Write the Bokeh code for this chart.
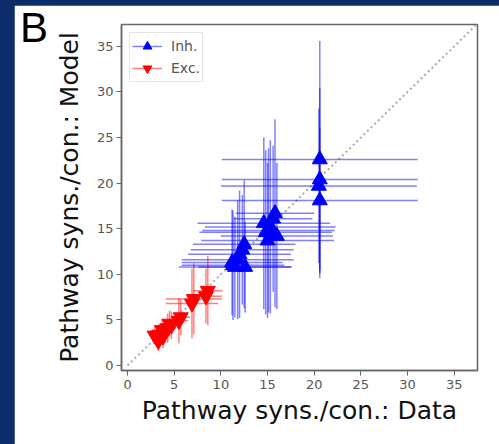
import numpy as np
from bokeh.plotting import figure
from bokeh.models import (ColumnDataSource, Legend, LegendItem, FixedTicker,
                          Range1d, Div)
from bokeh.layouts import column
from bokeh.embed import file_html
from bokeh.resources import INLINE

# ---- data ----
inh_x    = [20.6, 20.6, 20.5, 20.6,
            14.6, 14.8, 15.0, 15.3, 15.8, 15.6, 16.0, 15.1,
            11.3, 11.5, 11.8, 12.0, 12.3, 12.5, 12.6, 11.2]
inh_y    = [22.6, 20.4, 19.7, 18.1,
            15.6, 14.6, 13.7, 15.2, 16.7, 16.1, 14.2, 14.8,
            11.0, 10.8, 11.6, 12.2, 12.7, 13.3, 10.8, 11.3]
inh_xerr = [10.5, 10.5, 10.5, 10.5,
            7.1, 7.1, 7.1, 7.0, 4.2, 4.2, 6.0, 7.1,
            5.5, 6.0, 6.0, 5.5, 5.5, 5.5, 5.0, 5.4]
inh_yerr = [13.0, 10.0, 8.5, 8.0,
            9.4, 9.0, 8.5, 9.5, 10.3, 8.0, 8.0, 9.0,
            6.0, 5.5, 6.5, 7.0, 6.0, 7.0, 5.0, 5.8]

exc_x    = [8.6, 8.4, 7.1, 6.9, 5.7, 5.5, 4.7, 4.3, 4.0, 3.7, 3.4, 3.1, 2.9, 3.3, 3.8, 4.5]
exc_y    = [8.2, 7.6, 7.3, 6.8, 5.3, 4.9, 4.4, 4.1, 3.7, 3.9, 3.4, 3.1, 3.3, 2.7, 3.2, 4.6]
exc_xerr = [1.6, 1.7, 3.0, 2.8, 1.0, 1.0, 0.8, 0.9, 0.7, 0.6, 0.6, 0.5, 0.4, 0.5, 0.6, 0.7]
exc_yerr = [3.8, 3.0, 3.9, 3.8, 2.0, 2.5, 1.5, 1.6, 1.3, 1.2, 1.2, 1.0, 1.0, 1.1, 1.3, 1.4]

ticks = [0, 5, 10, 15, 20, 25, 30, 35]
diag = [0, 40]

x_label = "Pathway syns./con.: Data"
y_label = "Pathway syns./con.: Model"
panel_letter = "B"


def make_source(x, y, xe, ye):
    x = np.array(x); y = np.array(y); xe = np.array(xe); ye = np.array(ye)
    return ColumnDataSource(dict(x=x, y=y, x0=x - xe, x1=x + xe,
                                 y0=y - ye, y1=y + ye))


p = figure(width=485, height=439,
           x_range=Range1d(-0.65, 37.5), y_range=Range1d(-0.55, 37.4),
           output_backend="svg", toolbar_location=None,
           min_border_left=107, min_border_right=22,
           min_border_top=19, min_border_bottom=74)
p.margin = (5, 0, 0, 14)
p.background_fill_color = "white"
p.border_fill_color = "white"
p.grid.visible = False
p.outline_line_color = "#666666"
p.outline_line_width = 1.5

for ax in (p.xaxis[0], p.yaxis[0]):
    ax.ticker = FixedTicker(ticks=ticks)
    ax.minor_tick_line_color = None
    ax.major_tick_out = 5
    ax.major_tick_in = 0
    ax.major_tick_line_color = "#666666"
    ax.axis_line_color = "#666666"
    ax.axis_line_width = 1.5
    ax.major_label_text_font = "DejaVu Sans"
    ax.major_label_text_font_size = "13px"
    ax.major_label_text_color = "#555555"
    ax.axis_label_text_font = "DejaVu Sans"
    ax.axis_label_text_font_size = "25px"
    ax.axis_label_text_font_style = "normal"
    ax.axis_label_text_color = "#111111"

p.xaxis.axis_label = x_label
p.yaxis.axis_label = y_label
p.xaxis.major_label_standoff = 4
p.yaxis.major_label_standoff = 3
p.xaxis.axis_label_standoff = 4
p.yaxis.axis_label_standoff = 10

# diagonal
p.line(diag, diag, line_color="#aaaaaa", line_width=2, line_dash="2 3")

exc_src = make_source(exc_x, exc_y, exc_xerr, exc_yerr)
inh_src = make_source(inh_x, inh_y, inh_xerr, inh_yerr)

items = []
for src, col, marker, name in ((exc_src, "red", "inverted_triangle", "Exc."),
                               (inh_src, "blue", "triangle", "Inh.")):
    hx = p.segment("x0", "y", "x1", "y", source=src, line_color=col,
                   line_alpha=0.5, line_width=1.5)
    p.segment("x", "y0", "x", "y1", source=src, line_color=col,
              line_alpha=0.5, line_width=1.5)
    sc = p.scatter("x", "y", source=src, marker=marker, size=15,
                   fill_color=col, line_color=col)
    items.append((name, [hx, sc]))

legend = Legend(items=[LegendItem(label="Inh.", renderers=items[1][1]),
                       LegendItem(label="Exc.", renderers=items[0][1])],
                location="top_left")
legend.margin = 8
legend.padding = 2
legend.spacing = 0
legend.glyph_width = 30
legend.glyph_height = 22
legend.label_height = 22
legend.label_standoff = 9
legend.label_text_font = "DejaVu Sans"
legend.label_text_font_size = "14px"
legend.label_text_color = "#555555"
legend.border_line_color = "#cccccc"
legend.border_line_width = 1
legend.background_fill_alpha = 0.9
p.add_layout(legend)

letter = Div(text=('<span style="font-family: \'Liberation Sans\'; '
                   'font-size: 42px; color: black; line-height: 1;">'
                   + panel_letter + '</span>'),
             width=40, height=45,
             styles={"position": "absolute", "left": "20px", "top": "7px",
                     "z-index": "10", "margin": "0", "padding": "0"})

page = column(p, letter, width=499, height=444,
              styles={"background-color": "#0b2d6b", "position": "relative"})

open("out.html", "w").write(file_html(page, INLINE))
